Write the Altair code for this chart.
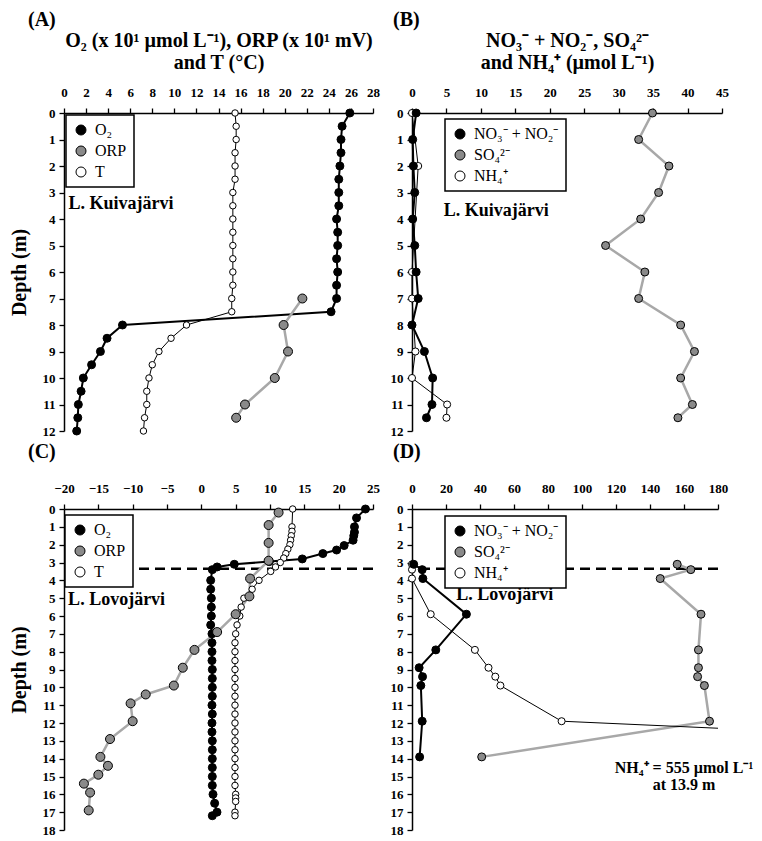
import altair as alt
import pandas as pd

FONT = "Liberation Serif"

# ---------------- Panel A : L. Kuivajärvi (O2, ORP, T) ----------------
a_o2_depth = [0, 0.5, 1, 1.5, 2, 2.5, 3, 3.5, 4, 4.5, 5, 5.5, 6, 6.5, 7, 7.5,
              8, 8.5, 9, 9.5, 10, 10.5, 11, 11.5, 12]
a_o2 = [25.9, 25.2, 25.1, 25.1, 25.0, 24.9, 24.9, 24.9, 24.7, 24.8, 24.8, 24.7,
        24.8, 24.7, 24.7, 24.2, 5.3, 3.9, 3.3, 2.5, 1.75, 1.55, 1.3, 1.25, 1.15]
a_t_depth = a_o2_depth
a_t = [15.5, 15.6, 15.6, 15.5, 15.5, 15.5, 15.3, 15.3, 15.3, 15.3, 15.3, 15.3,
       15.3, 15.3, 15.2, 15.2, 11.1, 9.7, 8.6, 8.0, 7.7, 7.5, 7.5, 7.3, 7.2]
a_orp_depth = [7, 8, 9, 10, 11, 11.5]
a_orp = [21.6, 19.9, 20.3, 19.1, 16.4, 15.6]

# ---------------- Panel B : L. Kuivajärvi (NO3+NO2, SO4, NH4) ----------------
b_depth = [0, 1, 2, 3, 4, 5, 6, 7, 8, 9, 10, 11, 11.5]
b_no3 = [0.6, 0.1, 0.2, 0.4, 0.1, 0.4, 0.6, 0.9, 0.0, 1.8, 3.0, 2.9, 2.1]
b_so4 = [34.9, 32.9, 37.3, 35.8, 33.2, 28.1, 33.8, 32.9, 39.0, 41.0, 39.0, 40.7, 38.6]
b_nh4_depth = [0, 2, 6, 7, 9, 10, 11, 11.5]
b_nh4 = [0.0, 0.9, 0.0, 0.0, 0.5, 0.0, 5.1, 5.0]

# ---------------- Panel C : L. Lovojärvi (O2, ORP, T) ----------------
c_o2_depth = [0, 0.5, 1.0, 1.3, 1.5, 1.75, 2.05, 2.3, 2.5, 2.8, 2.95, 3.1, 3.25, 3.4,
              4.0, 4.5, 5.0, 5.5, 6.0, 6.5, 7.0, 7.5, 8.0, 8.5, 9.0, 9.5, 10.0,
              10.5, 11.0, 11.5, 12.0, 12.5, 13.0, 13.5, 14.0, 14.5, 15.0, 15.5,
              16.0, 16.5, 17.0, 17.2]
c_o2 = [23.9, 22.6, 22.3, 22.3, 22.2, 22.1, 20.8, 19.7, 17.7, 14.7, 9.9, 4.8, 2.3, 1.6,
        1.36, 1.36, 1.46, 1.46, 1.46, 1.36, 1.55, 1.55, 1.55, 1.55, 1.6, 1.6, 1.6,
        1.6, 1.55, 1.6, 1.55, 1.55, 1.6, 1.6, 1.6, 1.6, 1.6, 1.6,
        1.7, 1.94, 2.28, 1.6]
c_t_depth = [0, 1.0, 1.25, 1.5, 1.75, 2.0, 2.25, 2.5, 2.75, 3.0, 3.25, 3.5, 4.0, 4.5,
             5.0, 5.5, 6.0, 6.5, 7.0, 7.5, 8.0, 8.5, 9.0, 9.5, 10.0, 10.5, 11.0,
             11.5, 12.0, 12.5, 13.0, 13.5, 14.0, 14.5, 15.0, 15.5, 16.0, 16.2,
             16.4, 17.0, 17.2]
c_t = [13.3, 13.2, 13.2, 13.1, 13.0, 12.9, 12.6, 12.3, 12.0, 11.5, 10.8, 10.1, 8.4, 7.4,
       6.2, 5.8, 5.6, 5.2, 5.0, 4.9, 4.9, 4.9, 4.9, 4.9, 4.9, 4.9, 4.9,
       4.9, 4.9, 4.9, 4.9, 4.9, 4.9, 4.9, 4.9, 4.9, 5.0, 5.0,
       5.0, 4.9, 4.9]
c_orp_depth = [0.2, 0.9, 1.9, 2.9, 3.9, 4.9, 5.9, 6.9, 7.9, 8.9, 9.9, 10.4, 10.9,
               11.9, 12.9, 13.9, 14.4, 14.9, 15.4, 15.9, 16.9]
c_orp = [11.25, 9.8, 9.8, 9.8, 7.1, 7.0, 5.0, 2.3, -1.0, -2.7, -4.0, -8.1, -10.3,
         -10.0, -13.3, -14.7, -13.6, -15.0, -17.1, -16.2, -16.4]

# ---------------- Panel D : L. Lovojärvi (NO3+NO2, SO4, NH4) ----------------
d_depth = [3.1, 3.4, 3.9, 5.9, 7.9, 8.9, 9.4, 9.9, 11.9, 13.9]
d_no3 = [1.0, 6.0, 6.4, 32.0, 14.0, 4.2, 6.2, 5.2, 6.0, 4.5]
d_so4 = [156, 164, 146, 170, 168.5, 168.5, 168, 172, 175, 41]
d_nh4 = [0, 0, 0, 11, 37, 45, 49, 52, 88, 555]

chemocline_depth = 3.35

labels_phys = ["O₂", "ORP", "T"]
labels_chem = ["NO₃⁻ + NO₂⁻", "SO₄²⁻", "NH₄⁺"]


def frame(depths, values, name):
    return pd.DataFrame({"depth": depths, "value": values, "series": name})


def panel(series, xdom, xvals, ydom, yvals, width, height, xtitle, ytitle,
          letter, letter_dx, letter_offset, leg_xy, lake, lake_xy,
          dashed=False, note=None, clip_names=(), xmax=None):
    names = [s["name"] for s in series]
    fills = [s["fill"] for s in series]
    xscale = alt.Scale(domain=xdom, nice=False, zero=False)
    yscale = alt.Scale(domain=ydom, reverse=True, nice=False)
    xaxis = alt.Axis(orient="top", values=xvals, title=xtitle, labelFlush=False,
                     labelOverlap=False, labelPadding=9, titlePadding=14,
                     titleLineHeight=22)
    yaxis = alt.Axis(values=yvals, title=ytitle, labelPadding=4, titlePadding=13,
                     labelOverlap=False, labelFlush=False)
    legend = alt.Legend(title=None, orient="none",
                        legendX=leg_xy[0], legendY=leg_xy[1],
                        fillColor="white", strokeColor="black",
                        padding=7, rowPadding=5,
                        labelFont=FONT, labelFontSize=16,
                        labelColor="black", labelOffset=6,
                        labelLimit=300,
                        symbolType="circle", symbolSize=100,
                        symbolStrokeColor="black",
                        symbolStrokeWidth=1)

    def X():
        return alt.X("value:Q", scale=xscale, axis=xaxis)

    def Y():
        return alt.Y("depth:Q", scale=yscale, axis=yaxis)

    layers = []
    if dashed:
        layers.append(
            alt.Chart(pd.DataFrame({"depth": [chemocline_depth], "value": [xdom[0]]}))
            .mark_rule(strokeDash=[10, 6], strokeWidth=2.5, color="black")
            .encode(y=Y())
        )
    for s in series:
        layers.append(
            alt.Chart(s["df"])
            .mark_line(color=s["line"], strokeWidth=s["lw"],
                       clip=s["name"] in clip_names)
            .encode(x=X(), y=Y(), order=alt.Order("depth:Q"))
        )
    for s in sorted(series, key=lambda s: s["z"]):
        df = s["df"]
        if xmax is not None:
            df = df[df["value"] <= xmax]
        layers.append(
            alt.Chart(df)
            .mark_circle(opacity=1, stroke="black", strokeWidth=1, size=s["size"])
            .encode(
                x=X(), y=Y(),
                fill=alt.Fill("series:N",
                              scale=alt.Scale(domain=names, range=fills),
                              sort=names, legend=legend),
            )
        )
    layers.append(
        alt.Chart(pd.DataFrame({"value": [lake_xy[0]], "depth": [lake_xy[1]], "t": [lake]}))
        .mark_text(font=FONT, fontSize=18, fontWeight="bold", align="left",
                   baseline="middle", color="black")
        .encode(x=X(), y=Y(), text="t:N")
    )
    if note is not None:
        layers.append(
            alt.Chart(pd.DataFrame(note))
            .mark_text(font=FONT, fontSize=16, fontWeight="bold", align="center",
                       baseline="middle", color="black")
            .encode(x=X(), y=Y(), text="t:N")
        )
    return alt.layer(*layers).properties(
        width=width, height=height,
        title=alt.TitleParams(letter, anchor="start", frame="group", dx=letter_dx,
                              offset=letter_offset, font=FONT, fontSize=20,
                              fontWeight="bold", color="black"),
    )


def phys(o2d, o2, orpd, orp, td, t):
    return [
        dict(name=labels_phys[0], df=frame(o2d, o2, labels_phys[0]), fill="black",
             line="black", lw=2, size=64, z=2),
        dict(name=labels_phys[1], df=frame(orpd, orp, labels_phys[1]), fill="#8a8a8a",
             line="#a8a8a8", lw=2.5, size=81, z=3),
        dict(name=labels_phys[2], df=frame(td, t, labels_phys[2]), fill="white",
             line="black", lw=1, size=42, z=1),
    ]


def chem(nd, n, sd, s, hd, h):
    return [
        dict(name=labels_chem[0], df=frame(nd, n, labels_chem[0]), fill="black",
             line="black", lw=2, size=64, z=3),
        dict(name=labels_chem[1], df=frame(sd, s, labels_chem[1]), fill="#8a8a8a",
             line="#a8a8a8", lw=2.5, size=64, z=2),
        dict(name=labels_chem[2], df=frame(hd, h, labels_chem[2]), fill="white",
             line="black", lw=1, size=50, z=1),
    ]


pA = panel(phys(a_o2_depth, a_o2, a_orp_depth, a_orp, a_t_depth, a_t),
           [0, 28], list(range(0, 29, 2)), [0, 12], list(range(0, 13)), 309, 318,
           ["O₂ (x 10¹ µmol L⁻¹), ORP (x 10¹ mV)", "and T (°C)"], "Depth (m)",
           "(A)", -36, 0, (2, 2), "L. Kuivajärvi", (0.4, 3.45))

pB = panel(chem(b_depth, b_no3, b_depth, b_so4, b_nh4_depth, b_nh4),
           [0, 45], list(range(0, 46, 5)), [0, 12], list(range(0, 13)), 310, 318,
           ["NO₃⁻ + NO₂⁻, SO₄²⁻", "and NH₄⁺ (µmol L⁻¹)"], None,
           "(B)", -19, 0, (33, 6), "L. Kuivajärvi", (4.6, 3.7))

pC = panel(phys(c_o2_depth, c_o2, c_orp_depth, c_orp, c_t_depth, c_t),
           [-20, 25], list(range(-20, 26, 5)), [0, 18], list(range(0, 19)), 309, 321,
           None, "Depth (m)",
           "(C)", -36, 20, (1, 6), "L. Lovojärvi", (-19.4, 5.1), dashed=True)

pD = panel(chem(d_depth, d_no3, d_depth, d_so4, d_depth, d_nh4),
           [0, 180], list(range(0, 181, 20)), [0, 18], list(range(0, 19)), 306, 321,
           None, None,
           "(D)", -19, 20, (33, 7), "L. Lovojärvi", (26, 4.85), dashed=True,
           note={"value": [160, 160], "depth": [14.5, 15.5],
                 "t": ["NH₄⁺ = 555 µmol L⁻¹", "at 13.9 m"]},
           clip_names=(labels_chem[2],), xmax=180)

chart = (
    alt.concat(pA, pB, pC, pD, columns=2, spacing={"row": 78, "column": 39},
               bounds="flush")
    .resolve_scale(x="independent", y="independent", fill="independent")
    .properties(padding={"left": 1, "top": 2, "right": 0, "bottom": 0})
    .configure_view(stroke=None)
    .configure_axis(labelFont=FONT, titleFont=FONT, labelFontWeight="bold",
                    titleFontWeight="bold", labelFontSize=13, titleFontSize=20,
                    labelColor="black", titleColor="black", domainColor="black",
                    tickColor="black", domainWidth=1.5, tickWidth=1.3, tickSize=5,
                    grid=False)
    .configure_legend(strokeWidth=1.5)
)

chart.save("out.html", embed_options={"renderer": "svg", "actions": False})
